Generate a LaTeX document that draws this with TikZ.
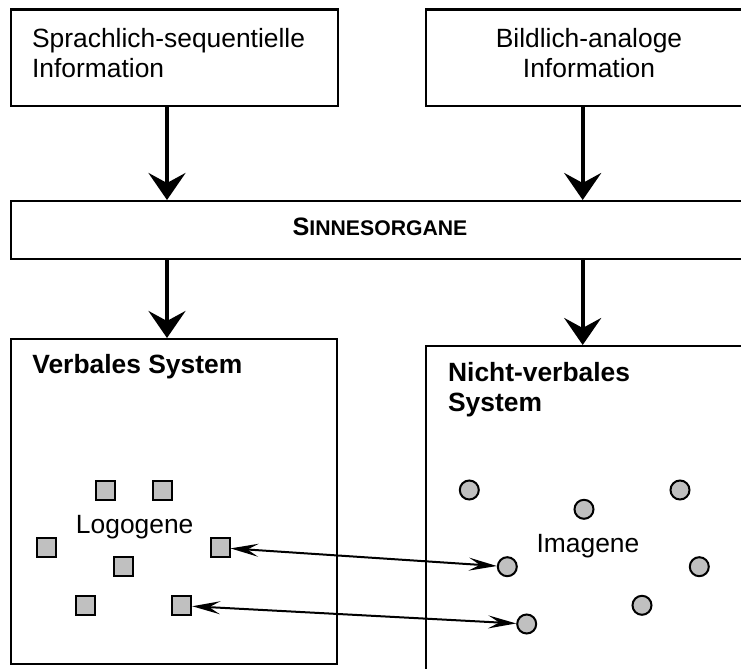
\documentclass[tikz,border=0pt]{standalone}
\usepackage{fontspec}
\setmainfont{Liberation Sans}
\usetikzlibrary{arrows.meta}
\definecolor{genegray}{HTML}{C0C0C0}
\tikzset{
  box/.style={draw, line width=1pt, inner sep=0pt},
  infotext/.style={inner sep=0pt, font=\fontsize{13.2}{15}\selectfont},
  systitle/.style={inner sep=0pt, font=\fontsize{13.2}{15}\selectfont\bfseries, align=left},
  logogen/.style={draw, line width=1pt, fill=genegray, minimum size=9.5pt, inner sep=0pt},
  imagen/.style={logogen, circle},
  flow/.style={line width=2pt, -{Stealth[length=13.5pt, width=18.5pt, inset=5pt]}},
  link/.style={line width=1pt, {Stealth[length=14pt, width=6.5pt, inset=5.5pt]}-{Stealth[length=14pt, width=6.5pt, inset=5.5pt]}}
}
\begin{document}
\begin{tikzpicture}[x=0.5pt, y=-0.5pt]
    \useasboundingbox (0,0) rectangle (741,669);
    \clip (0,0) rectangle (741,669);
    \node[box, minimum width=163.25pt, minimum height=48.25pt] (sprache) at (174.25,57.75) {};
    \node[box, minimum width=163pt, minimum height=48.25pt] (bild) at (589,57.75) {};
    \node[box, minimum width=369.5pt, minimum height=29pt] (sinne) at (380,230) {};
    \node[box, minimum width=163pt, minimum height=162.5pt] (verbal) at (174,501.5) {};
    \node[box, minimum width=163pt, minimum height=177pt] (nonverbal) at (589,523) {};
    \node[infotext, anchor=north west, align=left] (sprachetext) at (31.7,27.8) {Sprachlich-sequentielle\\Information};
    \node[infotext, anchor=north, align=center] (bildtext) at (589,27.8) {Bildlich-analoge\\Information};
    \node[inner sep=0pt, font=\bfseries, anchor=base] (sinnetext) at (380,235.7) {{\fontsize{12.6}{14}\selectfont S}{\fontsize{10.6}{12}\selectfont INNESORGANE}};
    \node[systitle, anchor=base west] (verbaltitle) at (32,373) {Verbales System};
    \node[systitle, anchor=north west] (nonverbaltitle) at (447.7,361.8) {Nicht-verbales\\System};
    \node[infotext, anchor=base] (logotext) at (134.7,533) {Logogene};
    \node[infotext, anchor=base] (imagetext) at (588,552) {Imagene};
    \node[logogen] (l1) at (105,490.7) {};
    \node[logogen] (l2) at (162.3,490.7) {};
    \node[logogen] (l3) at (46.7,547.7) {};
    \node[logogen] (l4) at (220,547.7) {};
    \node[logogen] (l5) at (123.3,566.7) {};
    \node[logogen] (l6) at (85,605.7) {};
    \node[logogen] (l7) at (181.7,605.7) {};
    \node[imagen] (i1) at (469.3,490) {};
    \node[imagen] (i2) at (584,509.3) {};
    \node[imagen] (i3) at (680,490) {};
    \node[imagen] (i4) at (507.3,566.7) {};
    \node[imagen] (i5) at (699.3,566.7) {};
    \node[imagen] (i6) at (642,605.3) {};
    \node[imagen] (i7) at (526.7,624) {};
    \coordinate (left) at (167,0);
    \coordinate (right) at (582.7,0);
    \draw[flow] (sprache.south -| left) -- (sinne.north -| left);
    \draw[flow] (bild.south -| right) -- (sinne.north -| right);
    \draw[flow] (sinne.south -| left) -- (verbal.north -| left);
    \draw[flow] (sinne.south -| right) -- (nonverbal.north -| right);
    \draw[link] (l4) -- (i4);
    \draw[link] (l7) -- (i7);
\end{tikzpicture}
\end{document}
